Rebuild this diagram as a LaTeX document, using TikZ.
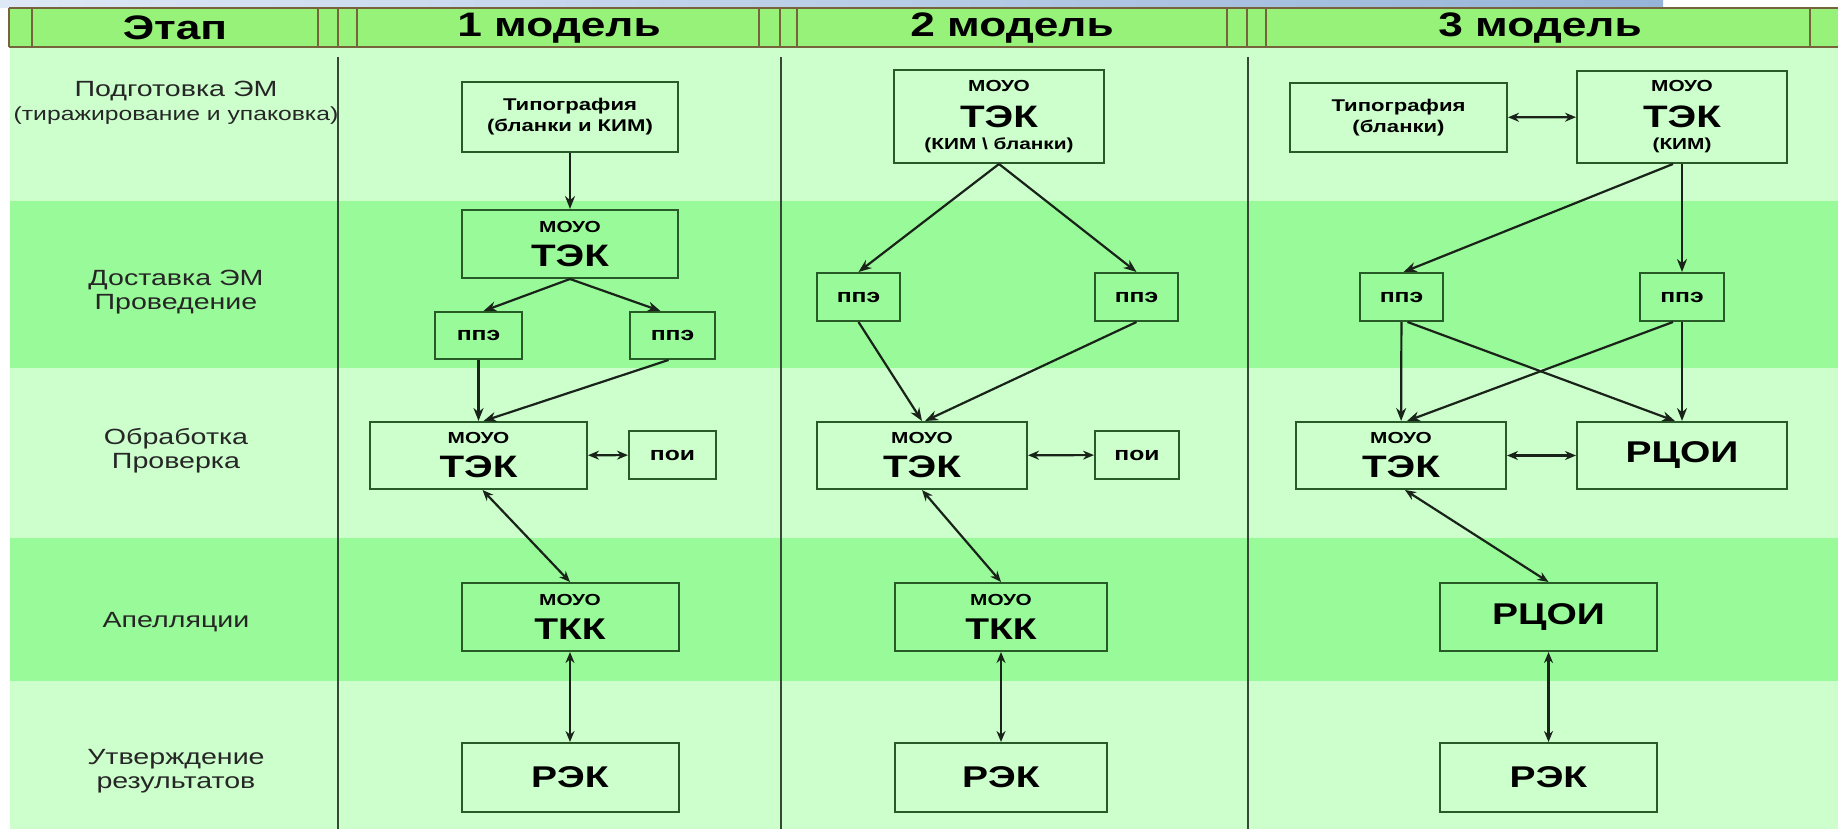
\documentclass[tikz,border=0pt]{standalone}
\usepackage{fontspec}
\setmainfont{Liberation Sans}[FakeStretch=1.3]
\usetikzlibrary{arrows.meta}

\definecolor{bglight}{RGB}{204,255,204}
\definecolor{bgdark}{RGB}{153,250,153}
\definecolor{headfill}{RGB}{150,242,120}
\definecolor{headline}{RGB}{120,100,60}
\definecolor{boxgreen}{RGB}{40,90,40}
\definecolor{linedark}{RGB}{25,35,25}
\definecolor{divgray}{RGB}{55,70,55}
\definecolor{bandblue1}{RGB}{222,232,246}
\definecolor{bandblue2}{RGB}{150,180,216}

\newcommand\setfs[2]{\fontsize{#1}{#2}\selectfont}

\tikzset{
  box/.style 2 args={draw=boxgreen, line width=2pt, inner sep=0pt, align=center,
    minimum width=#1pt, minimum height=#2pt},
  two/.style={font=\bfseries\setfs{16}{34}},
  three/.style={font=\bfseries\setfs{16}{22}},
  one/.style={font=\bfseries\setfs{30}{30}},
  small/.style={font=\bfseries\setfs{19}{19}},
  stage/.style={align=center, text=black!85, font=\setfs{22}{24}},
  headtext/.style={font=\bfseries\setfs{34}{34}},
  conn/.style={draw=linedark, line width=2.2pt, -{Stealth[length=13pt,width=10pt]}},
  both/.style={draw=linedark, line width=2.2pt,
    {Stealth[length=11pt,width=9pt]}-{Stealth[length=11pt,width=9pt]}},
}

\begin{document}
\begin{tikzpicture}[x=1pt,y=-1pt]
\useasboundingbox (0,0) rectangle (1838,829);
\fill[white] (0,0) rectangle (1838,829);
\shade[left color=bandblue1, right color=bandblue2] (0,0) rectangle (1663,8);

% bands
\fill[bglight] (10,47) rectangle (1838,829);
\fill[bgdark] (10,201) rectangle (1838,368);
\fill[bgdark] (10,538) rectangle (1838,681);

% header
\fill[headfill] (9,8) rectangle (1838,47);
\draw[headline, line width=2pt] (9,8) -- (1838,8) (9,47) -- (1838,47);
\foreach \hx in {9,32,318,338,357,759,780,797,1227,1247,1266,1810}
  \draw[headline, line width=2pt] (\hx,8) -- (\hx,47);
\node[headtext] (hstage) at (175,28) {Этап};
\node[headtext] (hmodel1) at (559,28) {1 модель};
\node[headtext] (hmodel2) at (1012,28) {2 модель};
\node[headtext] (hmodel3) at (1540,28) {3 модель};

% column lines
\foreach \dx in {338,781,1248}
  \draw[divgray, line width=2.5pt] (\dx,57) -- (\dx,829);

% stages
\node[stage] (prep) at (176,103) {Подготовка ЭМ\\\setfs{19}{22}(тиражирование и упаковка)};
\node[stage] (deliv) at (176,292) {Доставка ЭМ\\Проведение};
\node[stage] (check) at (176,451) {Обработка\\Проверка};
\node[stage] (appeal) at (176,622) {Апелляции};
\node[stage] (approve) at (176,771) {Утверждение\\результатов};

% model 1
\node[box={216}{70}, font=\bfseries\setfs{17}{21}] (typ1) at (570,117) {Типография\\(бланки и КИМ)};
\node[box={216}{68}, two] (tekA1) at (570,244) {МОУО\\\setfs{31}{31}ТЭК};
\node[box={87}{47}, small] (ppeA1) at (478.5,335.5) {ппэ};
\node[box={85}{47}, small] (ppeB1) at (672.5,335.5) {ппэ};
\node[box={217}{67}, two] (tekB1) at (478.5,455.5) {МОУО\\\setfs{31}{31}ТЭК};
\node[box={87}{48}, small] (poi1) at (672.5,455) {пои};
\node[box={217}{68}, two] (tkk1) at (570,617) {МОУО\\\setfs{30}{30}ТКК};
\node[box={217}{69}, one] (rek1) at (570,777.5) {РЭК};

\draw[conn] (typ1) -- (tekA1);
\draw[conn] (tekA1.south) -- ([xshift=5pt]ppeA1.north);
\draw[conn] (tekA1.south) -- ([xshift=-12pt]ppeB1.north);
\draw[conn] (ppeA1) -- (tekB1);
\draw[conn] ([xshift=-4pt]ppeB1.south) -- ([xshift=5pt]tekB1.north);
\draw[both] (tekB1) -- (poi1);
\draw[both] ([xshift=4pt]tekB1.south) -- (tkk1.north);
\draw[both] (tkk1) -- (rek1);

% model 2
\node[box={210}{93}, three] (tekA2) at (999,116.5) {МОУО\\[14pt]\setfs{31}{31}ТЭК\\(КИМ \textbackslash\ бланки)};
\node[box={83}{48}, small] (ppeA2) at (858.5,297) {ппэ};
\node[box={83}{48}, small] (ppeB2) at (1136.5,297) {ппэ};
\node[box={210}{67}, two] (tekB2) at (922,455.5) {МОУО\\\setfs{31}{31}ТЭК};
\node[box={84}{48}, small] (poi2) at (1137,455) {пои};
\node[box={212}{68}, two] (tkk2) at (1001,617) {МОУО\\\setfs{30}{30}ТКК};
\node[box={212}{69}, one] (rek2) at (1001,777.5) {РЭК};

\draw[conn] (tekA2.south) -- (ppeA2.north);
\draw[conn] (tekA2.south) -- (ppeB2.north);
\draw[conn] (ppeA2.south) -- (tekB2.north);
\draw[conn] (ppeB2.south) -- ([xshift=3pt]tekB2.north);
\draw[both] (tekB2) -- (poi2);
\draw[both] (tekB2.south) -- (tkk2.north);
\draw[both] (tkk2) -- (rek2);

% model 3
\node[box={217}{69}, font=\bfseries\setfs{17}{21}] (typ3) at (1398.5,117.5) {Типография\\(бланки)};
\node[box={210}{92}, three] (tekA3) at (1682,117) {МОУО\\[14pt]\setfs{31}{31}ТЭК\\(КИМ)};
\node[box={83}{48}, small] (ppeA3) at (1401.5,297) {ппэ};
\node[box={84}{48}, small] (ppeB3) at (1682,297) {ппэ};
\node[box={210}{67}, two] (tekB3) at (1401,455.5) {МОУО\\\setfs{31}{31}ТЭК};
\node[box={210}{67}, one] (rcoiA3) at (1682,455.5) {РЦОИ};
\node[box={217}{68}, one] (rcoiB3) at (1548.5,617) {РЦОИ};
\node[box={217}{69}, one] (rek3) at (1548.5,777.5) {РЭК};

\draw[both] (typ3) -- (tekA3);
\draw[conn] ([xshift=-9pt]tekA3.south) -- ([xshift=2pt]ppeA3.north);
\draw[conn] (tekA3) -- (ppeB3);
\draw[conn] (ppeA3) -- (tekB3);
\draw[conn] ([xshift=6pt]ppeA3.south) -- ([xshift=-7pt]rcoiA3.north);
\draw[conn] ([xshift=-9pt]ppeB3.south) -- ([xshift=6pt]tekB3.north);
\draw[conn] (ppeB3) -- (rcoiA3);
\draw[both] (tekB3) -- (rcoiA3);
\draw[both] ([xshift=4pt]tekB3.south) -- (rcoiB3.north);
\draw[both] (rcoiB3) -- (rek3);
\end{tikzpicture}
\end{document}
